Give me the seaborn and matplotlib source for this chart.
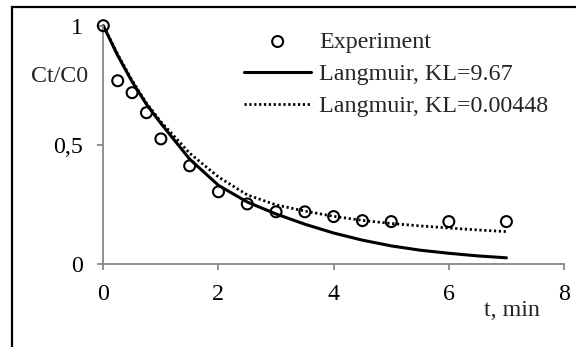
import numpy as np
import pandas as pd
import matplotlib
matplotlib.use("Agg")
import matplotlib.pyplot as plt
import matplotlib.patches as mpatches
import seaborn as sns

# ---- data ----
t_exp = [0, 0.25, 0.5, 0.75, 1.0, 1.5, 2.0, 2.5, 3.0, 3.5, 4.0, 4.5, 5.0, 6.0, 7.0]
c_exp = [1.0, 0.769, 0.719, 0.635, 0.525, 0.412, 0.303, 0.252, 0.219, 0.219, 0.199, 0.182, 0.178, 0.178, 0.178]

t_model = [0, 0.25, 0.5, 0.75, 1.0, 1.5, 2.0, 2.5, 3.0, 3.5, 4.0, 4.5, 5.0, 5.5, 6.0, 6.5, 7.0]
c_kl_967 = [1.0, 0.875, 0.765, 0.67, 0.59, 0.44, 0.33, 0.26, 0.21, 0.167, 0.13, 0.10, 0.076, 0.058, 0.045, 0.034, 0.026]
c_kl_000448 = [1.0, 0.88, 0.77, 0.675, 0.597, 0.465, 0.365, 0.29, 0.248, 0.222, 0.2, 0.183, 0.17, 0.16, 0.151, 0.143, 0.136]

labels = ["Experiment", "Langmuir, KL=9.67", "Langmuir, KL=0.00448"]
x_ticks = [0, 2, 4, 6, 8]
y_ticks = [0, 0.5, 1]
y_tick_labels = ["0", "0,5", "1"]
x_label = "t, min"
y_label = "Ct/C0"

sns.set_theme(style="white")
plt.rcParams["font.family"] = ["Liberation Serif", "DejaVu Serif"]

FS = 17.3
W, H = 576, 347
fig = plt.figure(figsize=(W / 100, H / 100), dpi=100)
ax = fig.add_axes([103.3 / W, 1 - 264 / H, (564 - 103.3) / W, (264 - 25.7) / H])

df_exp = pd.DataFrame({"t": t_exp, "c": c_exp})
df_m = pd.DataFrame({"t": t_model, "a": c_kl_967, "b": c_kl_000448})

sns.lineplot(data=df_m, x="t", y="a", ax=ax, color="black", lw=2.2,
             label=labels[1], sort=False, zorder=2)
sns.lineplot(data=df_m, x="t", y="b", ax=ax, color="black", lw=2.0,
             linestyle=(0, (0.8, 0.95)), label=labels[2], sort=False, zorder=2)
sns.scatterplot(data=df_exp, x="t", y="c", ax=ax, marker="o", s=62,
                facecolors="none", edgecolor="black", linewidth=1.5,
                label=labels[0], zorder=3, clip_on=False)

for ln in ax.lines:
    ln.set_clip_on(False)

ax.set_xlim(0, 8)
ax.set_ylim(0, 1)
ax.set_xticks(x_ticks)
ax.set_xticklabels([str(v) for v in x_ticks])
ax.set_yticks(y_ticks)
ax.set_yticklabels(y_tick_labels)
ax.set_xlabel("")
ax.set_ylabel("")

gray = "#878787"
for s in ["top", "right"]:
    ax.spines[s].set_visible(False)
for s in ["left", "bottom"]:
    ax.spines[s].set_color(gray)
    ax.spines[s].set_linewidth(1.3)
ax.tick_params(axis="both", which="major", direction="out", length=4.5, width=1.3,
               color=gray, labelsize=FS, labelcolor="black", pad=10,
               bottom=True, left=True)
ax.set_facecolor("white")

fig.text(60 / W, 1 - 76 / H, y_label, fontsize=FS, ha="center", va="center")
fig.text(512 / W, 1 - 311 / H, x_label, fontsize=FS, ha="center", va="center")

h, l = ax.get_legend_handles_labels()
order = [l.index(lb) for lb in labels]
ax.legend([h[i] for i in order], [l[i] for i in order], loc="upper left",
          bbox_to_anchor=(244 / W, 1 - 31 / H), bbox_transform=fig.transFigure,
          frameon=False, fontsize=FS, handlelength=2.8, handletextpad=0.33,
          labelspacing=0.43, borderpad=0, borderaxespad=0, scatterpoints=1)

rect = mpatches.Rectangle((12 / W, -0.05), 1.0, 1 - 6.5 / H + 0.05,
                          transform=fig.transFigure, fill=False,
                          edgecolor="black", linewidth=1.6)
fig.patches.append(rect)

fig.savefig("out.png", dpi=100, facecolor="white")
